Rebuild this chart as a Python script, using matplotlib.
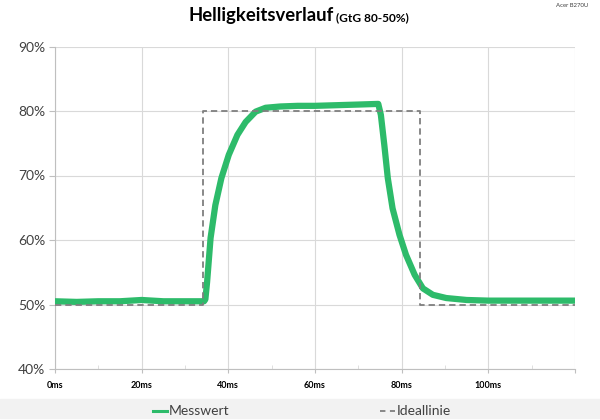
import matplotlib
matplotlib.use('Agg')
import matplotlib.pyplot as plt
from matplotlib.lines import Line2D
from matplotlib.patches import Rectangle
from matplotlib.ticker import MultipleLocator, FuncFormatter

plt.rcParams['font.family'] = ['Lato', 'DejaVu Sans']

time_ms = [0, 5, 10, 15, 20, 25, 30, 34.4, 34.7, 35.1, 35.9, 37.0, 38.4, 40.1,
           42.1, 44.0, 46.3, 48.6, 52, 56, 60, 65, 70, 74.6, 75.2, 76.0, 76.8,
           77.9, 79.5, 81.0, 83.0, 84.9, 87.2, 90.3, 95, 100, 110, 119.5]
messwert = [50.5, 50.4, 50.5, 50.5, 50.7, 50.5, 50.5, 50.5, 50.8, 53.5, 60.3,
            65.4, 69.6, 73.2, 76.3, 78.3, 79.9, 80.5, 80.7, 80.8, 80.8, 80.9,
            81.0, 81.1, 79.4, 74.7, 69.6, 64.9, 60.8, 57.7, 54.6, 52.5, 51.5,
            51.0, 50.7, 50.6, 50.6, 50.6]

# ideal step
ideal_t = [0, 34.2, 34.2, 84.2, 84.2, 120]
ideal_v = [50, 50, 80, 80, 50, 50]

green = '#2dbb6a'
gray = '#7f7f7f'

fig = plt.figure(figsize=(6, 4.2), dpi=100)
ax = fig.add_axes([55/600, 1-369/420, 520/600, (369-46.5)/420])

ax.plot(time_ms, messwert, color=green, lw=4.5, solid_joinstyle='round', zorder=3)
ax.plot(ideal_t, ideal_v, color=gray, lw=1.3, linestyle=(0, (3.5, 2.2)), zorder=4)

ax.set_xlim(0, 120)
ax.set_ylim(40, 90)
ax.xaxis.set_major_locator(MultipleLocator(20))
ax.xaxis.set_minor_locator(MultipleLocator(10))
ax.yaxis.set_major_locator(MultipleLocator(10))
ax.xaxis.set_major_formatter(FuncFormatter(lambda v, p: '%dms' % v if v < 120 else ''))
ax.yaxis.set_major_formatter(FuncFormatter(lambda v, p: '%d%%' % v))

ax.grid(True, which='major', color='#d9d9d9', lw=0.8, zorder=0)
for s in ['top', 'right']:
    ax.spines[s].set_visible(False)
ax.spines['left'].set_color('#bfbfbf')
ax.spines['bottom'].set_color('#bfbfbf')

ax.tick_params(axis='y', length=4, color='#bfbfbf', labelsize=10, pad=3, labelcolor='#404040')
ax.tick_params(axis='x', which='major', length=3, color='#bfbfbf', labelsize=6.5, pad=6)
ax.tick_params(axis='x', which='minor', direction='in', length=3, color='#d9d9d9')
for lab in ax.get_xticklabels():
    lab.set_fontweight('bold')

# title: main part then the smaller part right after it
base_y = 1-20.7/420
t1 = fig.text(189/600, base_y, 'Helligkeitsverlauf', fontsize=13.3, fontweight='bold',
              va='baseline', ha='left')
fig.canvas.draw()
bb = t1.get_window_extent()
fig.text(bb.x1/600 + 2/600, base_y, '(GtG 80-50%)', fontsize=8.6, fontweight='bold',
         va='baseline', ha='left')
fig.text(588/600, 1-5.5/420, 'Acer B270U', fontsize=4.3, ha='right', va='center',
         color='#404040')

# legend band
fig.patches.append(Rectangle((0, 2/420), 1, 19/420, transform=fig.transFigure,
                             color='#f2f2f2', zorder=0))
ly = 1-410.7/420
fig.add_artist(Line2D([152.7/600, 167/600], [ly, ly], color=green, lw=2.2))
fig.text(169/600, ly, 'Messwert', fontsize=10, va='center', ha='left', color='#404040')
fig.add_artist(Line2D([380/600, 395/600], [ly, ly], color=gray, lw=1.3,
                      linestyle=(0, (3, 2.5))))
fig.text(397/600, ly, 'Ideallinie', fontsize=10, va='center', ha='left', color='#404040')

fig.savefig('out.png', dpi=100)
